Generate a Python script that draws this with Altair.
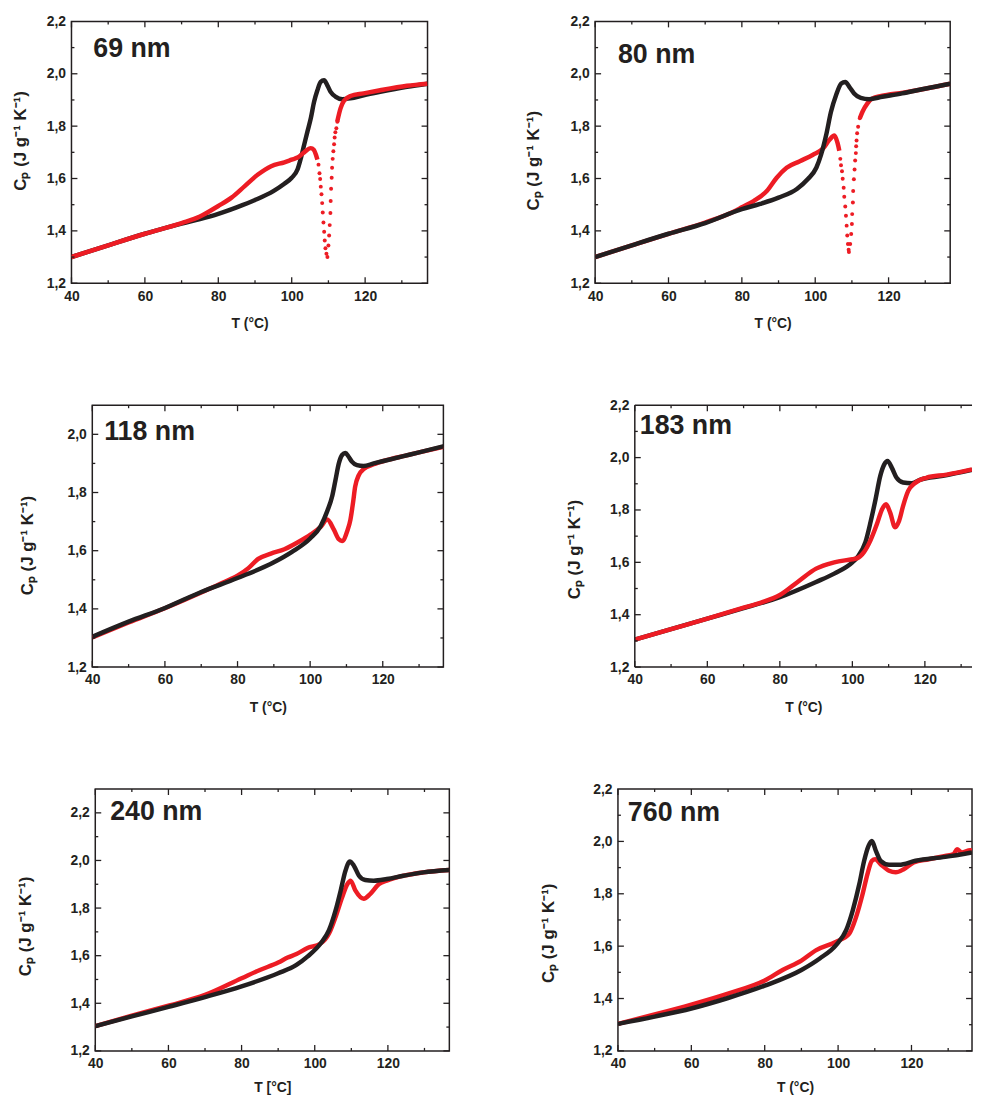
import altair as alt
import pandas as pd

FONT = "Liberation Sans"
INK = "#231f20"
RED = "#ed1c24"

# ---------------- axis ticks / labels ----------------
X_MAJOR = [40, 60, 80, 100, 120]
X_MINOR = [50, 70, 90, 110, 130]
Y_MAJOR = [1.2, 1.4, 1.6, 1.8, 2.0, 2.2]
Y_MINOR = [1.3, 1.5, 1.7, 1.9, 2.1, 2.3]

LABELS = ["69 nm", "80 nm", "118 nm", "183 nm", "240 nm", "760 nm"]
X_TITLES = ["T (°C)", "T (°C)", "T (°C)", "T (°C)", "T [°C]", "T (°C)"]
Y_TITLE = "Cₚ (J g⁻¹ K⁻¹)"
X_MAX = [137, 136.8, 136.7, 133, 136.8, 136.5]
Y_MAX = [2.2, 2.2, 2.1, 2.2, 2.3, 2.2]

# ---------------- 69 nm ----------------
P69_T_BLACK = [40, 50, 60, 70, 75, 80, 85, 90, 95, 98, 100, 101.6, 102.5, 103.4, 104.3, 105.2,
               106.1, 107.0, 107.9, 108.8, 109.7, 110.6, 112.0, 113.8, 116.0, 119.6, 124.1, 131.4, 137]
P69_CP_BLACK = [1.300, 1.345, 1.389, 1.428, 1.445, 1.465, 1.490, 1.518, 1.552, 1.580, 1.603, 1.635,
                1.678, 1.729, 1.780, 1.830, 1.893, 1.937, 1.969, 1.975, 1.956, 1.931, 1.912, 1.903,
                1.906, 1.918, 1.931, 1.950, 1.962]
P69_T_RED_A = [40, 50, 60, 70, 75, 80, 83.6, 87.2, 90.8, 94.4, 98.0, 100.0, 101.6, 103.4, 105.2,
               106.0, 106.6, 107.0]
P69_CP_RED_A = [1.300, 1.345, 1.389, 1.430, 1.455, 1.495, 1.527, 1.571, 1.615, 1.647, 1.662, 1.672,
                1.680, 1.700, 1.716, 1.710, 1.691, 1.672]
P69_T_RED_B = [112.4, 113.3, 114.2, 116.0, 119.6, 124.1, 131.4, 137]
P69_CP_RED_B = [1.817, 1.868, 1.896, 1.915, 1.925, 1.937, 1.954, 1.962]
P69_T_DOTS = [107.3, 107.57, 107.75, 107.92, 108.11, 108.3, 108.46, 108.65, 108.84, 109.0, 109.19,
              109.46, 109.73, 110.0, 110.19, 110.35, 110.54, 110.62, 110.73, 110.89, 111.0, 111.16,
              111.35, 111.54, 111.7, 111.89, 112.16, 112.43]
P69_CP_DOTS = [1.653, 1.620, 1.598, 1.569, 1.540, 1.506, 1.470, 1.432, 1.397, 1.363, 1.334, 1.313,
               1.300, 1.344, 1.382, 1.422, 1.468, 1.514, 1.561, 1.603, 1.641, 1.675, 1.704, 1.731,
               1.757, 1.777, 1.792, 1.817]

# ---------------- 80 nm ----------------
P80_T_BLACK = [40, 50, 60, 70, 80, 85, 90, 95, 98, 100.3, 101.6, 103.0, 104.3, 105.7, 107.1, 108.2,
               109.3, 110.6, 112.4, 114.7, 118.3, 123.7, 129.1, 136.8]
P80_CP_BLACK = [1.300, 1.345, 1.389, 1.430, 1.483, 1.503, 1.527, 1.560, 1.598, 1.641, 1.691, 1.767,
                1.855, 1.919, 1.963, 1.969, 1.950, 1.925, 1.908, 1.903, 1.912, 1.925, 1.941, 1.962]
P80_T_RED_A = [40, 50, 60, 70, 78, 80, 83.2, 86.8, 89.5, 92.2, 95.8, 99.4, 102.1, 103.9, 105.2,
               106.1, 106.57]
P80_CP_RED_A = [1.300, 1.345, 1.389, 1.432, 1.475, 1.490, 1.514, 1.552, 1.603, 1.641, 1.666, 1.691,
                1.714, 1.748, 1.764, 1.735, 1.706]
P80_T_RED_B = [112.16, 112.89, 114.24, 115.6, 118, 124, 130, 136.8]
P80_CP_RED_B = [1.830, 1.855, 1.887, 1.906, 1.915, 1.928, 1.943, 1.962]
P80_T_DOTS = [106.84, 107.03, 107.3, 107.49, 107.76, 107.92, 108.19, 108.38, 108.57, 108.73, 108.92,
              109.11, 109.19, 109.54, 109.81, 110.0, 110.08, 110.27, 110.35, 110.54, 110.73, 110.89,
              111.08, 111.16, 111.27, 111.43, 111.7, 112.16]
P80_CP_DOTS = [1.675, 1.651, 1.628, 1.599, 1.565, 1.530, 1.493, 1.458, 1.420, 1.382, 1.350, 1.328,
               1.319, 1.350, 1.388, 1.426, 1.464, 1.508, 1.552, 1.597, 1.634, 1.669, 1.697, 1.723,
               1.745, 1.773, 1.798, 1.830]

# ---------------- 118 nm ----------------
P118_T_BLACK = [40, 50, 60, 70, 80, 90, 95, 100, 102.88, 104.71, 106.07, 106.98, 107.9, 108.8, 109.7,
                110.6, 111.5, 112.9, 114.7, 117.5, 121.1, 125.7, 130, 136.7]
P118_CP_BLACK = [1.304, 1.356, 1.403, 1.458, 1.506, 1.560, 1.596, 1.642, 1.684, 1.736, 1.787, 1.843,
                 1.900, 1.929, 1.936, 1.923, 1.906, 1.894, 1.891, 1.900, 1.911, 1.925, 1.938, 1.959]
P118_T_RED = [40, 50, 60, 70, 75, 80, 83, 85.6, 89.2, 92.9, 96.5, 100.2, 102.9, 104.7, 106.5, 107.9,
              108.8, 110.2, 111.1, 111.8, 112.4, 113.4, 114.7, 117.5, 121, 126, 130, 136.7]
P118_CP_RED = [1.302, 1.353, 1.402, 1.456, 1.485, 1.514, 1.540, 1.571, 1.590, 1.605, 1.628, 1.656,
               1.682, 1.707, 1.673, 1.639, 1.633, 1.667, 1.707, 1.764, 1.820, 1.860, 1.880, 1.897,
               1.911, 1.926, 1.938, 1.957]

# ---------------- 183 nm ----------------
P183_T_BLACK = [40, 50, 60, 70, 80, 90, 95, 100, 101.4, 103.6, 105.0, 106.4, 107.7, 108.8, 109.7,
                110.9, 112.2, 114.0, 116.3, 118.6, 125, 133]
P183_CP_BLACK = [1.305, 1.345, 1.385, 1.425, 1.467, 1.525, 1.557, 1.600, 1.620, 1.677, 1.753, 1.841,
                 1.930, 1.974, 1.987, 1.961, 1.923, 1.905, 1.902, 1.915, 1.930, 1.953]
P183_T_RED = [40, 50, 60, 70, 75, 80, 85, 90, 95, 100, 101.4, 103.2, 105.0, 106.8, 108.2, 109.3,
              110.4, 111.8, 112.9, 114.0, 115.4, 117.2, 120.4, 126, 133]
P183_CP_RED = [1.305, 1.345, 1.385, 1.427, 1.447, 1.475, 1.526, 1.576, 1.600, 1.612, 1.616, 1.639,
               1.684, 1.747, 1.803, 1.822, 1.791, 1.734, 1.759, 1.816, 1.873, 1.902, 1.923, 1.935,
               1.955]

# ---------------- 240 nm ----------------
P240_T_BLACK = [40, 50, 60, 70, 80, 90, 95, 98, 101.6, 103.9, 105.7, 107.1, 108.4, 109.6, 110.7,
                112.1, 113.8, 116.1, 119.7, 124.3, 129.7, 136.8]
P240_CP_BLACK = [1.304, 1.345, 1.385, 1.426, 1.471, 1.526, 1.561, 1.596, 1.651, 1.707, 1.790, 1.874,
                 1.957, 1.996, 1.978, 1.936, 1.918, 1.915, 1.922, 1.936, 1.950, 1.960]
P240_T_RED = [40, 50, 60, 70, 80, 85, 90, 92.6, 95, 98, 101.6, 103.9, 105.7, 107.5, 108.9, 109.8,
              111.1, 113.4, 115.2, 117.5, 119.7, 124.3, 129.7, 136.8]
P240_CP_RED = [1.304, 1.348, 1.390, 1.435, 1.505, 1.540, 1.571, 1.592, 1.607, 1.632, 1.651, 1.693,
               1.763, 1.846, 1.900, 1.915, 1.874, 1.839, 1.860, 1.900, 1.915, 1.936, 1.950, 1.960]

# ---------------- 760 nm ----------------
P760_T_BLACK = [40, 50, 60, 70, 80, 90, 95, 99.5, 102.2, 104.0, 105.8, 107.1, 108.3, 109.2, 110.3,
                111.6, 113.9, 116.6, 121.1, 129.2, 136.5]
P760_CP_BLACK = [1.303, 1.331, 1.362, 1.402, 1.449, 1.509, 1.553, 1.605, 1.661, 1.737, 1.838, 1.926,
                 1.983, 2.002, 1.964, 1.926, 1.911, 1.911, 1.926, 1.941, 1.958]
P760_T_RED = [40, 50, 60, 70, 80, 85, 90, 94.05, 99.5, 103.05, 104.9, 106.7, 108.0, 109.2, 110.1,
              111.6, 113.9, 115.7, 117.9, 120.6, 124.7, 129.2, 131.5, 132.4, 133.7, 136.0, 136.5]
P760_CP_RED = [1.303, 1.339, 1.377, 1.419, 1.469, 1.510, 1.545, 1.585, 1.617, 1.648, 1.711, 1.800,
               1.875, 1.926, 1.932, 1.913, 1.888, 1.882, 1.894, 1.920, 1.932, 1.945, 1.952, 1.970,
               1.958, 1.966, 1.965]


def frame(d):
    return pd.DataFrame(d)


def build_panel(i, t_black, cp_black, red_parts, dots, width, height, label_pos,
                y_title_pad, y_title_shift, x_title_pad, red_on_top, right_frame=True):
    xmax, ymax = X_MAX[i], Y_MAX[i]
    xs = alt.Scale(domain=[40, xmax], nice=False, zero=False)
    ys = alt.Scale(domain=[1.2, ymax], nice=False, zero=False)
    xaxis = alt.Axis(values=[v for v in X_MAJOR if v <= xmax], format="d", ticks=False, tickSize=0,
                     domain=False, grid=False, labelFont=FONT, labelFontSize=14,
                     labelFontWeight="bold", labelColor=INK, labelPadding=6,
                     title=X_TITLES[i], titleFont=FONT, titleFontSize=14,
                     titleFontWeight="bold", titleColor=INK, titlePadding=x_title_pad,
                     minExtent=20, maxExtent=20, labelFlush=False)
    yaxis = alt.Axis(values=[v for v in Y_MAJOR if v <= ymax + 1e-9],
                     labelExpr="replace(format(datum.value, '.1f'), '.', ',')",
                     ticks=False, tickSize=0, domain=False, grid=False, labelFont=FONT,
                     labelFontSize=14, labelFontWeight="bold", labelColor=INK, labelPadding=6,
                     title=Y_TITLE, titleFont=FONT, titleFontSize=17, titleFontWeight="bold",
                     titleColor=INK, titlePadding=y_title_pad, titleY=height / 2 + y_title_shift,
                     minExtent=30, maxExtent=30, labelFlush=False)

    black_df = frame({"T": t_black, "Cp": cp_black})
    rows = []
    for k, (tt, cc) in enumerate(red_parts):
        for a, b in zip(tt, cc):
            rows.append({"T": a, "Cp": b, "seg": k})
    red_df = pd.DataFrame(rows)

    black = alt.Chart(black_df).mark_line(color=INK, strokeWidth=4.5, interpolate="monotone",
                                          clip=True).encode(
        x=alt.X("T:Q", scale=xs, axis=xaxis), y=alt.Y("Cp:Q", scale=ys, axis=yaxis))
    red = alt.Chart(red_df).mark_line(color=RED, strokeWidth=4.5, interpolate="monotone",
                                      clip=True).encode(
        x=alt.X("T:Q", scale=xs, axis=xaxis), y=alt.Y("Cp:Q", scale=ys, axis=yaxis),
        detail="seg:N")
    layers = [black, red] if red_on_top else [red, black]
    if dots is not None:
        dots_df = frame({"T": dots[0], "Cp": dots[1]})
        layers.append(alt.Chart(dots_df).mark_circle(color=RED, size=16, opacity=1).encode(
            x=alt.X("T:Q", scale=xs, axis=xaxis), y=alt.Y("Cp:Q", scale=ys, axis=yaxis)))

    # inward ticks on the frame (same axis objects so the layer axes merge)
    for vals, length in ((X_MAJOR, 6), (X_MINOR, 3)):
        tdf = frame({"T": [v for v in vals if v < xmax]})
        layers.append(alt.Chart(tdf).mark_rule(color=INK, strokeWidth=1.3).encode(
            x=alt.X("T:Q", scale=xs, axis=xaxis), y=alt.value(height), y2=alt.value(height - length)))
        layers.append(alt.Chart(tdf).mark_rule(color=INK, strokeWidth=1.3).encode(
            x=alt.X("T:Q", scale=xs, axis=xaxis), y=alt.value(0), y2=alt.value(length)))
    for vals, length in ((Y_MAJOR, 6), (Y_MINOR, 3)):
        tdf = frame({"Cp": [v for v in vals if v < ymax - 1e-9]})
        layers.append(alt.Chart(tdf).mark_rule(color=INK, strokeWidth=1.3).encode(
            y=alt.Y("Cp:Q", scale=ys, axis=yaxis), x=alt.value(0), x2=alt.value(length)))
        if right_frame:
            layers.append(alt.Chart(tdf).mark_rule(color=INK, strokeWidth=1.3).encode(
                y=alt.Y("Cp:Q", scale=ys, axis=yaxis), x=alt.value(width), x2=alt.value(width - length)))

    one = frame({"label": [LABELS[i]]})
    if not right_frame:
        layers.append(alt.Chart(one).mark_rule(color=INK, strokeWidth=1.5).encode(
            x=alt.value(0), x2=alt.value(width), y=alt.value(0)))
        layers.append(alt.Chart(one).mark_rule(color=INK, strokeWidth=1.5).encode(
            x=alt.value(0), x2=alt.value(width), y=alt.value(height)))
        layers.append(alt.Chart(one).mark_rule(color=INK, strokeWidth=1.5).encode(
            x=alt.value(0), y=alt.value(0), y2=alt.value(height)))

    layers.append(alt.Chart(one).mark_text(align="left", baseline="alphabetic", fontSize=27,
                                           fontWeight="bold", font=FONT, color=INK).encode(
        x=alt.value(label_pos[0]), y=alt.value(label_pos[1]), text="label:N"))

    view = (alt.ViewBackground(stroke=INK, strokeWidth=1.5) if right_frame
            else alt.ViewBackground(stroke="transparent"))
    return alt.layer(*layers).properties(width=width, height=height, view=view)


def spacer(w):
    return alt.Chart(frame({"s": [0]})).mark_point(opacity=0, size=0).encode(
        x=alt.value(0), y=alt.value(0)).properties(
        width=w, height=1, view=alt.ViewBackground(stroke="transparent"))


p1 = build_panel(0, P69_T_BLACK, P69_CP_BLACK,
                 [(P69_T_RED_A, P69_CP_RED_A), (P69_T_RED_B, P69_CP_RED_B)],
                 (P69_T_DOTS, P69_CP_DOTS), 359, 264, (22, 36), 12, -12, 14, True)
p2 = build_panel(1, P80_T_BLACK, P80_CP_BLACK,
                 [(P80_T_RED_A, P80_CP_RED_A), (P80_T_RED_B, P80_CP_RED_B)],
                 (P80_T_DOTS, P80_CP_DOTS), 358, 264, (23, 42), 23, 8, 14, False)
p3 = build_panel(2, P118_T_BLACK, P118_CP_BLACK, [(P118_T_RED, P118_CP_RED)], None,
                 354, 264, (12, 35), 26, 9, 14, False)
p4 = build_panel(3, P183_T_BLACK, P183_CP_BLACK, [(P183_T_RED, P183_CP_RED)], None,
                 340, 264, (5, 29), 22, 13, 14, True, right_frame=False)
p5 = build_panel(4, P240_T_BLACK, P240_CP_BLACK, [(P240_T_RED, P240_CP_RED)], None,
                 357, 264, (15, 31), 31, 6, 10, False)
p6 = build_panel(5, P760_T_BLACK, P760_CP_BLACK, [(P760_T_RED, P760_CP_RED)], None,
                 357, 264, (10, 32), 31, 13, 10, False)

row1 = alt.hconcat(spacer(1), alt.hconcat(p1, p2, spacing=169, bounds="flush"),
                   spacing=0, bounds="flush")
row2 = alt.hconcat(spacer(22), alt.hconcat(p3, p4, spacing=193, bounds="flush"),
                   spacing=0, bounds="flush")
row3 = alt.hconcat(spacer(25), alt.hconcat(p5, p6, spacing=170, bounds="flush"),
                   spacing=0, bounds="flush")

chart = alt.vconcat(row1, row2, row3, spacing=66).properties(
    padding={"left": 3, "top": 1, "right": 0, "bottom": 0},
    background="white",
).configure(font=FONT)

chart.save("out.html", embed_options={"renderer": "svg", "actions": False})
